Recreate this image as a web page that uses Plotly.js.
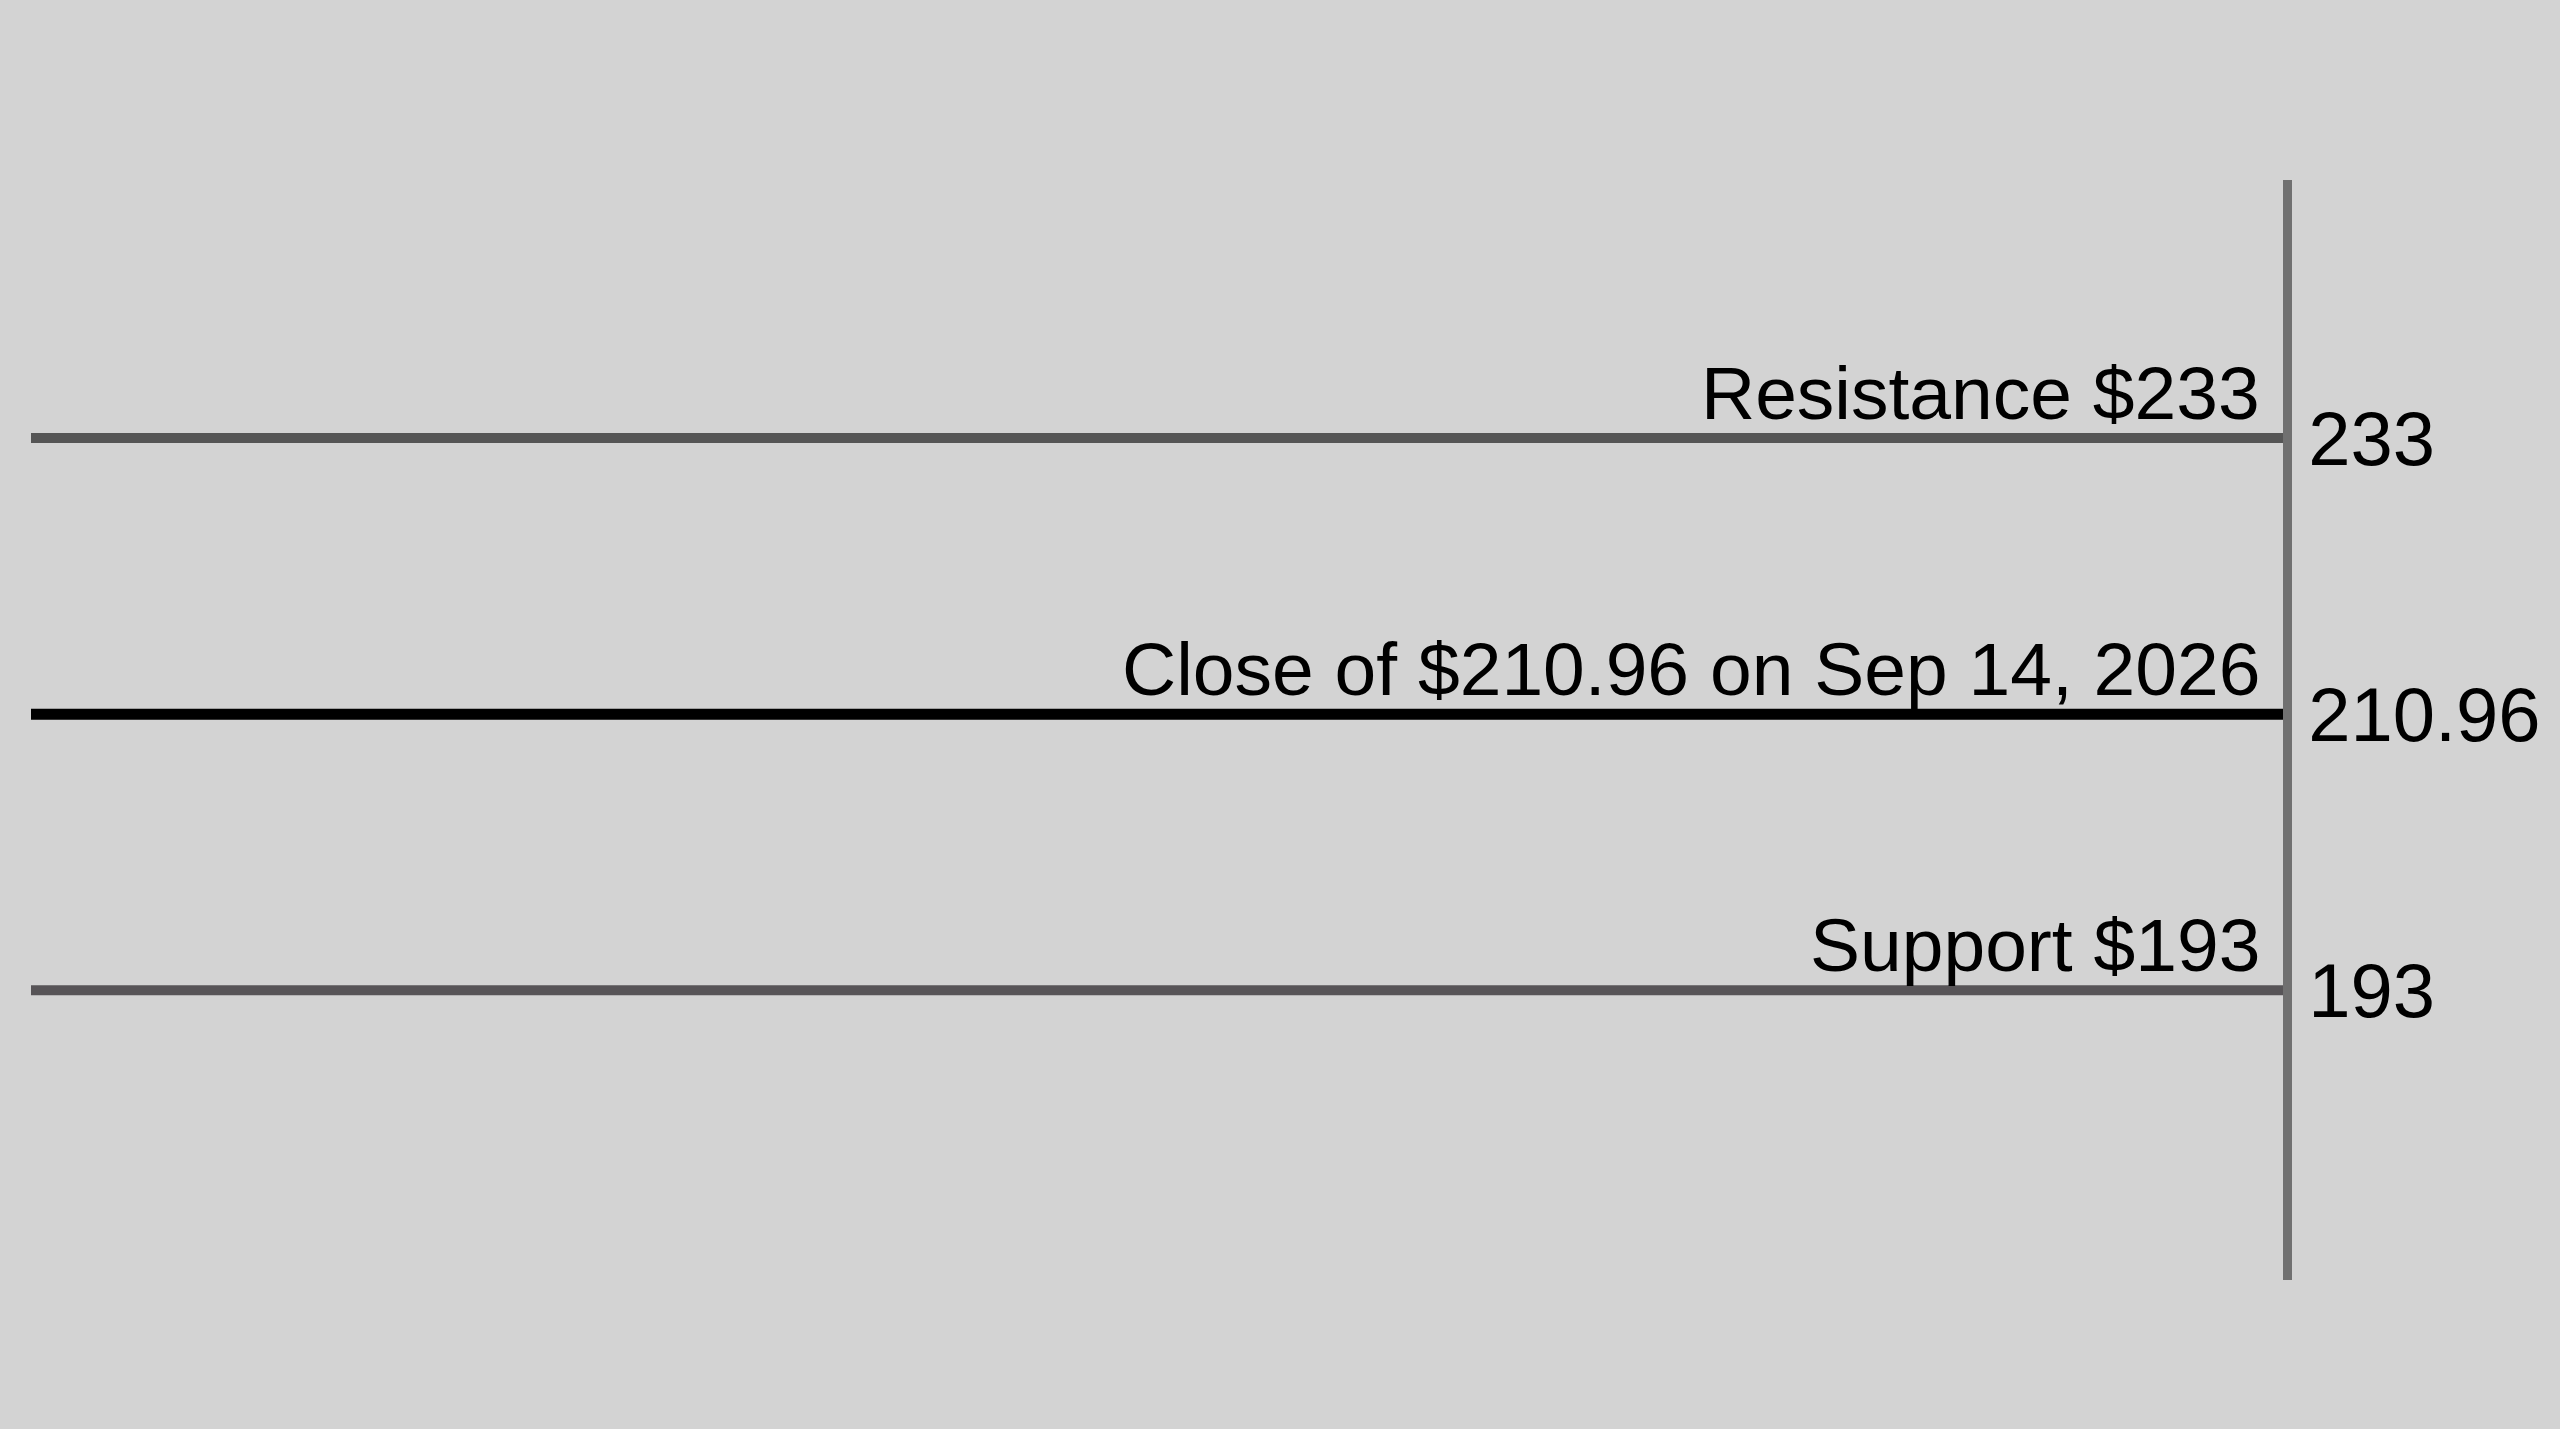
<!DOCTYPE html>
<html>
<head>
<meta charset="utf-8">
<script src="https://cdn.plot.ly/plotly-3.0.1.min.js"></script>
<style>
html,body{margin:0;padding:0;background:#d3d3d3;}
#chart{width:2560px;height:1429px;}
</style>
</head>
<body>
<div id="chart"></div>
<script>
// Data
const levelNames = ["Resistance", "Close", "Support"];
const levelValues = ["233", "210.96", "193"];
const levelLabels = ["Resistance $233", "Close of $210.96 on Sep 14, 2026", "Support $193"];
const levelColors = ["#555555", "#000000", "#575457"];
const levelWidths = [10, 11, 10];
const axisCategories = ["193", "210.96", "233"];
const xSpan = [0, 1];

const FONT = "Liberation Sans, Arial, Helvetica, sans-serif";

const traces = levelNames.map((n, i) => ({
  type: "scatter",
  mode: "lines",
  name: n,
  x: xSpan,
  y: [levelValues[i], levelValues[i]],
  line: {color: levelColors[i], width: levelWidths[i]},
  hoverinfo: "skip",
  showlegend: false
}));

// category axes take annotation positions as category indices
const annotations = levelNames.map((n, i) => ({
  xref: "paper", yref: "y",
  x: 1, y: axisCategories.indexOf(levelValues[i]),
  xanchor: "right", yanchor: "bottom",
  xshift: -21, yshift: 1,
  text: levelLabels[i],
  showarrow: false,
  font: {family: FONT, size: 75, color: "#000000"}
}));

const layout = {
  width: 2560, height: 1429,
  paper_bgcolor: "#d3d3d3",
  plot_bgcolor: "#d3d3d3",
  margin: {l: 31, r: 277, t: 180, b: 149},
  showlegend: false,
  xaxis: {range: xSpan, visible: false, fixedrange: true},
  yaxis: {
    type: "category",
    categoryorder: "array",
    categoryarray: axisCategories,
    range: [-1.05, 2.935],
    side: "right",
    showline: true,
    linecolor: "#707070",
    linewidth: 9,
    showgrid: false,
    zeroline: false,
    ticks: "",
    ticklabelstandoff: 1,
    tickfont: {family: FONT, size: 76, color: "#000000"}
  },
  annotations: annotations
};

Plotly.newPlot("chart", traces, layout, {displayModeBar: false, staticPlot: true});
</script>
</body>
</html>
